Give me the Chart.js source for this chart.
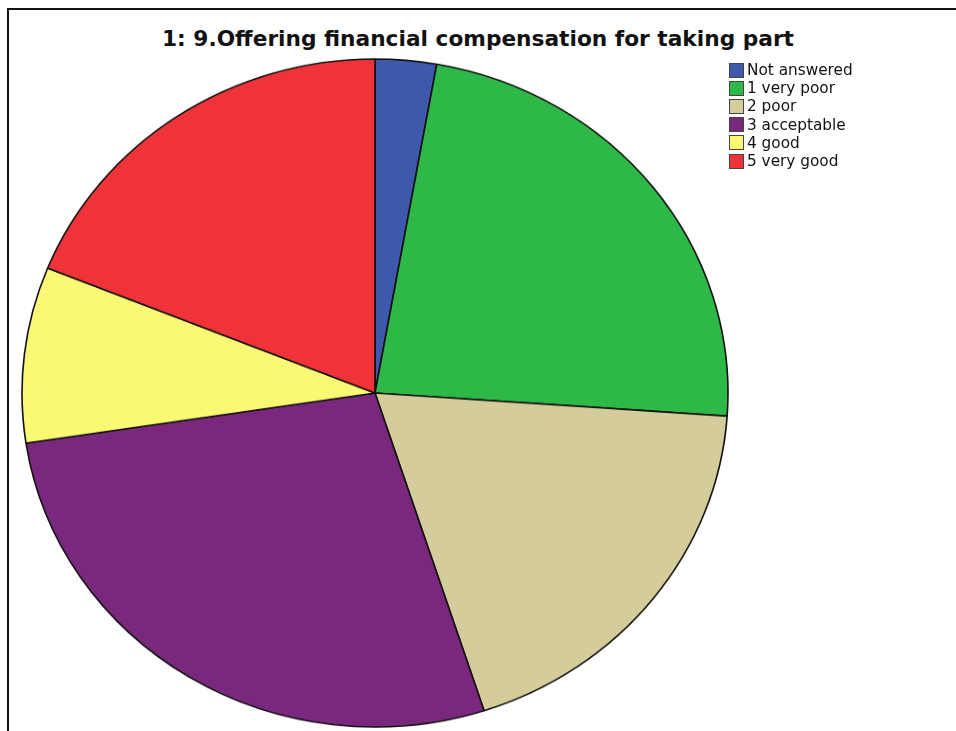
<!DOCTYPE html>
<html>
<head>
<meta charset="utf-8">
<script src="https://cdn.jsdelivr.net/npm/chart.js@4.4.1/dist/chart.umd.min.js"></script>
<style>
  html, body { margin: 0; padding: 0; background: #fff; }
  body { width: 956px; height: 731px; overflow: hidden; position: relative; font-family: "DejaVu Sans", sans-serif; }
  #frame { position: absolute; left: 7px; top: 8px; right: 0; bottom: 0; border-left: 2px solid #111; border-top: 2px solid #111; }
  #pieWrap { position: absolute; left: 19px; top: 37px; width: 712px; height: 712px; transform: scaleY(0.9462); transform-origin: 50% 50%; }
  #title { position: absolute; top: 26px; left: 0; width: 956px; text-align: center; font-weight: bold; font-size: 21.7px; color: #111; }
  #legend { position: absolute; left: 729px; top: 61px; font-size: 15.3px; color: #111; }
  .row { height: 18.2px; display: flex; align-items: center; }
  .box { width: 15px; height: 15px; border: 1px solid #444; box-sizing: border-box; margin-right: 3px; }
</style>
</head>
<body>
<div id="frame"></div>
<div id="pieWrap"><canvas id="pie" width="712" height="712"></canvas></div>
<div id="title">1: 9.Offering financial compensation for taking part</div>
<div id="legend"></div>
<script>
// chart data
const categories = ['Not answered', '1 very poor', '2 poor', '3 acceptable', '4 good', '5 very good'];
const percents = [2.8, 23.3, 18.9, 27.6, 8.5, 18.9];
const colors = ['#3e58ac', '#2eb848', '#d4cc9a', '#79287d', '#fbf873', '#ef3338'];

// legend built from the same arrays
const legend = document.getElementById('legend');
categories.forEach((c, i) => {
    const row = document.createElement('div');
    row.className = 'row';
    row.innerHTML = `<div class="box" style="background:${colors[i]}"></div><span>${c}</span>`;
    legend.appendChild(row);
});

const ctx = document.getElementById('pie').getContext('2d');
new Chart(ctx, {
    type: 'pie',
    data: {
        labels: categories,
        datasets: [{
            data: percents,
            backgroundColor: colors,
            borderColor: '#111',
            borderWidth: 1.6,
            hoverOffset: 0
        }]
    },
    options: {
        responsive: false,
        animation: false,
        radius: 353,
        layout: { padding: 0 },
        plugins: {
            legend: { display: false },
            title: { display: false },
            tooltip: { enabled: false }
        }
    }
});
</script>
</body>
</html>
